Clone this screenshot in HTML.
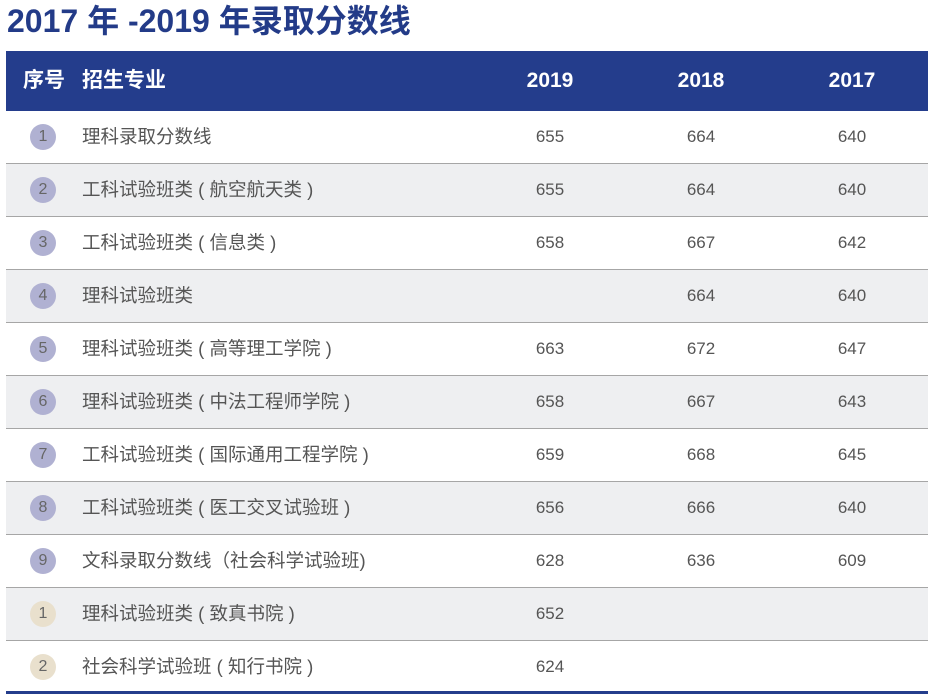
<!DOCTYPE html>
<html><head><meta charset="utf-8"><style>
*{margin:0;padding:0;box-sizing:border-box}
body{width:941px;height:699px;background:#fff;position:relative;overflow:hidden;font-family:"Liberation Sans","Noto Sans CJK SC",sans-serif}
.t{position:absolute;left:7px;top:1px;font-size:32px;font-weight:bold;color:#233b88;height:40px;line-height:40px;white-space:nowrap}
.h{position:absolute;left:6px;top:51px;width:922px;height:60px;background:#243d8c;color:#fff;font-size:21px;font-weight:bold}
.h span{position:absolute;top:0;height:60px;line-height:60px;white-space:nowrap}
.r span{position:absolute;top:0;height:52px;line-height:52px;white-space:nowrap}
.r{position:absolute;left:6px;width:922px;height:53px;border-bottom:1.5px solid #a6a6a6;font-size:17px;color:#555}
.r span.z{font-size:18.5px}
.r.g{background:#eeeff1}
.c{position:absolute;left:24px;top:13px;width:26px;height:26px;border-radius:50%;background:#b0b1d2;color:#666;text-align:center;line-height:26px;font-size:16px}
.c.b{background:#e9e0cd}
.n{width:80px;text-align:center;margin-left:-40px}
.last{border-bottom:3px solid #243d8c}
</style></head><body>
<div class="t">2017 年 -2019 年录取分数线</div>
<div class="h">
<span style="left:17px">序号</span>
<span style="left:76px">招生专业</span>
<span class="n" style="left:544px">2019</span>
<span class="n" style="left:695px">2018</span>
<span class="n" style="left:846px">2017</span>
</div>
<div class="r" style="top:111px"><div class="c">1</div><span class="z" style="left:76px">理科录取分数线</span><span class="n" style="left:544px">655</span><span class="n" style="left:695px">664</span><span class="n" style="left:846px">640</span></div>
<div class="r g" style="top:164px"><div class="c">2</div><span class="z" style="left:76px">工科试验班类 ( 航空航天类 )</span><span class="n" style="left:544px">655</span><span class="n" style="left:695px">664</span><span class="n" style="left:846px">640</span></div>
<div class="r" style="top:217px"><div class="c">3</div><span class="z" style="left:76px">工科试验班类 ( 信息类 )</span><span class="n" style="left:544px">658</span><span class="n" style="left:695px">667</span><span class="n" style="left:846px">642</span></div>
<div class="r g" style="top:270px"><div class="c">4</div><span class="z" style="left:76px">理科试验班类</span><span class="n" style="left:695px">664</span><span class="n" style="left:846px">640</span></div>
<div class="r" style="top:323px"><div class="c">5</div><span class="z" style="left:76px">理科试验班类 ( 高等理工学院 )</span><span class="n" style="left:544px">663</span><span class="n" style="left:695px">672</span><span class="n" style="left:846px">647</span></div>
<div class="r g" style="top:376px"><div class="c">6</div><span class="z" style="left:76px">理科试验班类 ( 中法工程师学院 )</span><span class="n" style="left:544px">658</span><span class="n" style="left:695px">667</span><span class="n" style="left:846px">643</span></div>
<div class="r" style="top:429px"><div class="c">7</div><span class="z" style="left:76px">工科试验班类 ( 国际通用工程学院 )</span><span class="n" style="left:544px">659</span><span class="n" style="left:695px">668</span><span class="n" style="left:846px">645</span></div>
<div class="r g" style="top:482px"><div class="c">8</div><span class="z" style="left:76px">工科试验班类 ( 医工交叉试验班 )</span><span class="n" style="left:544px">656</span><span class="n" style="left:695px">666</span><span class="n" style="left:846px">640</span></div>
<div class="r" style="top:535px"><div class="c">9</div><span class="z" style="left:76px">文科录取分数线（社会科学试验班)</span><span class="n" style="left:544px">628</span><span class="n" style="left:695px">636</span><span class="n" style="left:846px">609</span></div>
<div class="r g" style="top:588px"><div class="c b">1</div><span class="z" style="left:76px">理科试验班类 ( 致真书院 )</span><span class="n" style="left:544px">652</span></div>
<div class="r last" style="top:641px"><div class="c b">2</div><span class="z" style="left:76px">社会科学试验班 ( 知行书院 )</span><span class="n" style="left:544px">624</span></div>
</body></html>
